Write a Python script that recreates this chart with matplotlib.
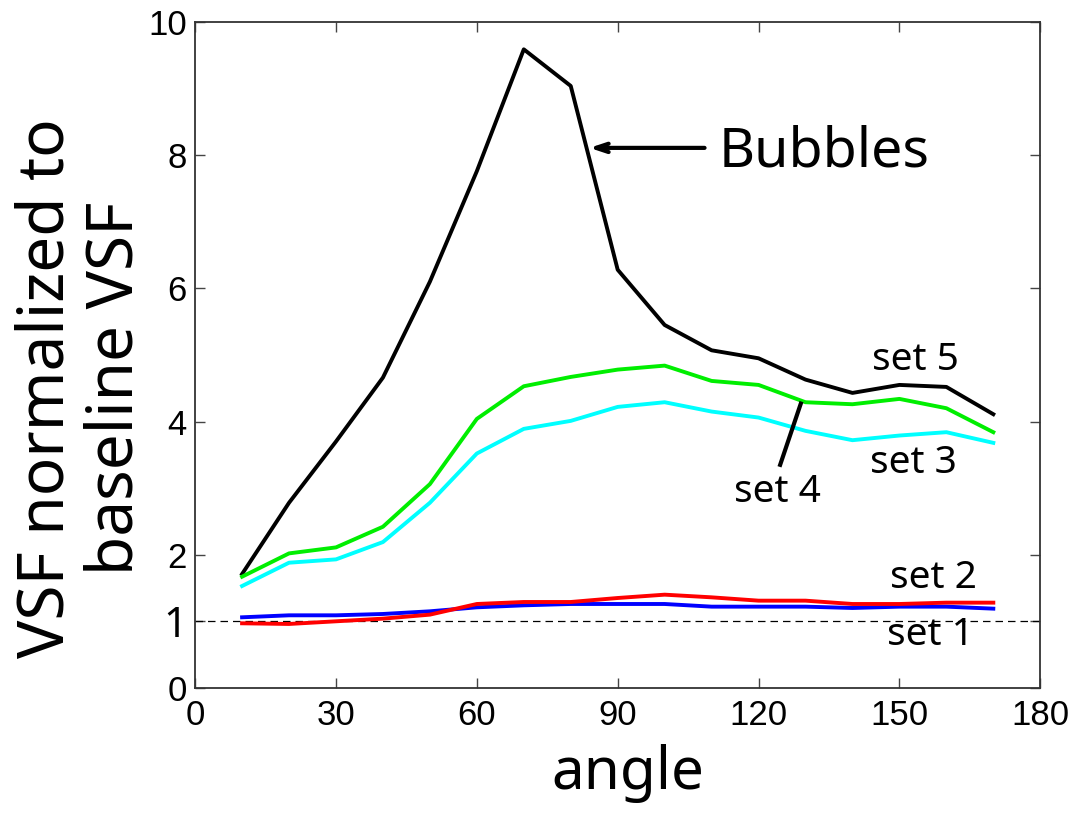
import matplotlib
matplotlib.use("Agg")
import matplotlib.pyplot as plt

# angle grid and VSF ratios
angle = [10, 20, 30, 40, 50, 60, 70, 80, 90, 100, 110, 120, 130, 140, 150, 160, 170]

set1 = [1.06, 1.09, 1.09, 1.11, 1.15, 1.21, 1.24, 1.26, 1.26, 1.26, 1.22, 1.22, 1.22, 1.20, 1.22, 1.22, 1.19]
set2 = [0.97, 0.96, 1.00, 1.04, 1.10, 1.26, 1.29, 1.29, 1.35, 1.40, 1.36, 1.31, 1.31, 1.26, 1.26, 1.28, 1.28]
set3 = [1.53, 1.88, 1.93, 2.19, 2.78, 3.52, 3.89, 4.01, 4.22, 4.29, 4.15, 4.06, 3.86, 3.72, 3.79, 3.84, 3.68]
set4 = [1.67, 2.02, 2.11, 2.42, 3.06, 4.04, 4.53, 4.67, 4.78, 4.84, 4.61, 4.55, 4.29, 4.26, 4.34, 4.20, 3.84]
set5 = [1.71, 2.78, 3.70, 4.66, 6.10, 7.76, 9.59, 9.04, 6.28, 5.45, 5.07, 4.95, 4.63, 4.43, 4.55, 4.52, 4.11]

xticks = [0, 30, 60, 90, 120, 150, 180]
yticks = [0, 1, 2, 4, 6, 8, 10]

lw = 2.8
hand = "Noto Sans"

fig = plt.figure(figsize=(10.78, 8.16), dpi=100)
ax = fig.add_axes([0.181, 0.157, 0.784, 0.816])

ax.axhline(1, color="black", lw=0.9, ls=(0, (6, 4)))
ax.plot(angle, set5, color="black", lw=lw)
ax.plot(angle, set4, color="#00ee00", lw=lw)
ax.plot(angle, set3, color="cyan", lw=lw)
ax.plot(angle, set1, color="blue", lw=lw)
ax.plot(angle, set2, color="red", lw=lw)

ax.set_xlim(0, 180)
ax.set_ylim(0, 10)
ax.set_xticks(xticks)
ax.set_yticks(yticks)
ax.tick_params(direction="in", top=True, right=True, length=7, width=1,
               labelsize=25, colors="#444444", labelcolor="black")
ax.tick_params(axis="y", pad=6)
ax.tick_params(axis="x", pad=8)
for lab in ax.get_xticklabels() + ax.get_yticklabels():
    lab.set_family("Liberation Sans")
one = ax.get_yticklabels()[1]
one.set_family(hand)
one.set_fontweight("bold")
one.set_fontsize(30)
for s in ax.spines.values():
    s.set_color("#333333")
    s.set_linewidth(1.3)

ax.set_xlabel("angle", fontsize=42, family=hand)
ax.xaxis.set_label_coords(0.512, -0.085)
ax.xaxis.label.set_va("top")
fig.text(81 / 1078, 1 - 388 / 816, "VSF normalized to\nbaseline VSF", rotation=90,
         fontsize=46, family=hand, ha="center", va="center", linespacing=1.1)

ax.annotate("", xy=(84.0, 8.11), xytext=(108.5, 8.11),
            arrowprops=dict(arrowstyle="->,head_length=0.9,head_width=0.3",
                            color="black", lw=3, shrinkA=0, shrinkB=0))
ax.text(111.5, 8.05, "Bubbles", fontsize=40, fontweight="bold", family=hand,
        va="center", ha="left")

ax.plot([129, 124.6], [4.27, 3.35], color="black", lw=3)
lab_kw = dict(fontsize=28, family=hand, ha="center", va="center")
ax.text(124, 2.94, "set 4", **lab_kw)
ax.text(153.4, 4.92, "set 5", **lab_kw)
ax.text(153, 3.38, "set 3", **lab_kw)
ax.text(157.2, 1.65, "set 2", **lab_kw)
ax.text(156.6, 0.80, "set 1", **lab_kw)

fig.savefig("out.png", dpi=100)
